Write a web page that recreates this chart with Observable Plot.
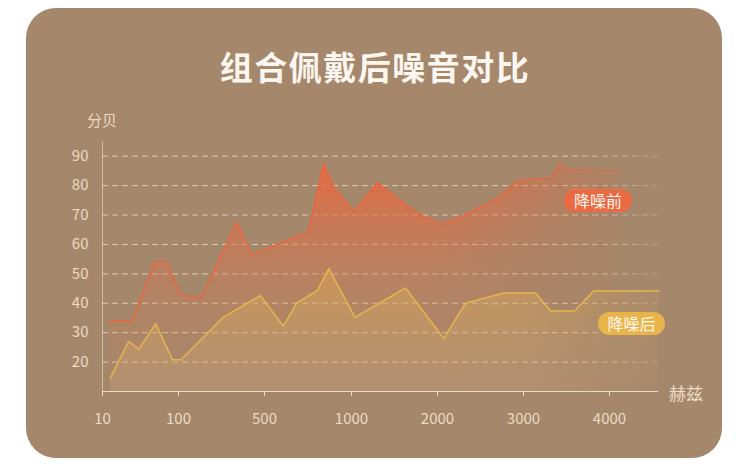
<!DOCTYPE html>
<html><head><meta charset="utf-8">
<script src="https://cdn.jsdelivr.net/npm/d3@7"></script>
<script src="https://cdn.jsdelivr.net/npm/@observablehq/plot@0.6"></script>
<style>
html,body{margin:0;padding:0;background:#fff;width:750px;height:476px;overflow:hidden;font-family:"Noto Sans CJK SC","Noto Sans",sans-serif;}
#wrap{position:relative;width:750px;height:476px;}
#card{position:absolute;left:26px;top:8px;width:696px;height:450px;border-radius:30px;background:#a5876b;}
#title{position:absolute;left:0;width:750px;top:43px;text-align:center;font-size:33px;font-weight:700;color:#fbf6ef;line-height:46px;letter-spacing:1.5px;}
#chart{position:absolute;left:0;top:0;}
.lab{position:absolute;color:#ecdcc6;white-space:nowrap;}
.pill{position:absolute;border-radius:12px;color:#fff7ef;font-size:16px;line-height:23px;height:23px;text-align:center;}
</style></head>
<body><div id="wrap"><div id="card"></div><div id="title">组合佩戴后噪音对比</div><div id="chart"></div>
<div class="lab" style="left:87px;top:110px;font-size:15px;line-height:20px">分贝</div>
<div class="lab" style="left:669px;top:382px;font-size:17px;line-height:22px">赫兹</div>
<div class="pill" style="left:564px;top:189px;width:68px;background:#ea6a43">降噪前</div>
<div class="pill" style="left:598px;top:312px;width:67px;background:#e9b54a">降噪后</div>
</div>
<script>
const freqBefore = [18,45,72,86,109,205,372,440,753,839,898,1027,1299,1764,2047,2326,2709,2942,3333,3419,3500,4128];
const dbBefore   = [34,34,54,54,42.7,41.8,67.5,56.5,64.3,87.5,79.6,71,81,70.5,66.8,70,76,81.8,82.5,87.5,85.5,85];
const freqAfter  = [19,41,53,73,93,112,311,481,609,684,803,870,1041,1628,2073,2326,2771,3140,3314,3593,3817,4573];
const dbAfter    = [14.4,27,24.4,33,20.8,20.8,35.4,42.6,32.2,40,44.3,51.8,35.2,45.2,28,40,43.5,43.5,37.4,37.4,44.2,44.2];
const xTicks = [10,100,500,1000,2000,3000,4000];
const yTicks = [20,30,40,50,60,70,80,90];

const before = freqBefore.map((f,i)=>({f, v: dbBefore[i]}));
const after = freqAfter.map((f,i)=>({f, v: dbAfter[i]}));

function stops(g, list) {
  list.forEach(([o, c, a]) => g.append("stop").attr("offset", o).attr("stop-color", c).attr("stop-opacity", a));
}

const chart = Plot.plot({
  width: 750, height: 476,
  marginLeft: 102, marginRight: 92, marginTop: 141, marginBottom: 85,
  style: {background: "transparent", color: "#ecdcc6", fontFamily: '"Noto Sans CJK SC","Noto Sans",sans-serif'},
  x: {type: "linear", domain: [10,100,500,1000,2000,3000,4000,4600], range: [102,178,264,351,437,523,609,660.6]},
  y: {domain: [10, 95]},
  marks: [
    Plot.ruleY(yTicks, {stroke: "#f3e6d2", strokeOpacity: 0.72, strokeDasharray: "6,4", strokeWidth: 1}),
    Plot.areaY(before, {x: "f", y1: 10, y2: "v", fill: "url(#gOrange)"}),
    Plot.areaY(after, {x: "f", y1: 10, y2: "v", fill: "url(#gYellow)"}),
    Plot.line(before, {x: "f", y: "v", stroke: "#e8673f", strokeWidth: 1.5}),
    Plot.line(after, {x: "f", y: "v", stroke: "#e6b44c", strokeWidth: 1.5}),
    Plot.ruleY([10], {stroke: "#ecdcc6", strokeWidth: 1.2}),
    Plot.ruleX([10], {stroke: "#ecdcc6", strokeOpacity: 0.6, strokeWidth: 1}),
    Plot.axisY({ticks: yTicks, tickSize: 0, tickPadding: 14, fontSize: 15, label: null}),
    Plot.axisX({ticks: xTicks, tickSize: 5, tickPadding: 17, fontSize: 15, tickFormat: d => String(d), label: null})
  ]
});

const X = chart.scale("x").apply;
const s = d3.select(chart);
const d = s.insert("defs", ":first-child");
stops(d.append("linearGradient").attr("id","gOrange").attr("x1",0).attr("y1",0).attr("x2",0).attr("y2",1),
  [[0,"#e9673e",0.92],[0.4,"#d97650",0.48],[1,"#c98a62",0]]);
stops(d.append("linearGradient").attr("id","gYellow").attr("x1",0).attr("y1",0).attr("x2",0).attr("y2",1),
  [[0,"#e4b252",0.4],[1,"#cfa67c",0.3]]);
function hmask(id, f1, f2, list) {
  const g = d.append("linearGradient").attr("id", id + "G").attr("gradientUnits", "userSpaceOnUse")
    .attr("x1", X(f1)).attr("y1", 0).attr("x2", X(f2)).attr("y2", 0);
  stops(g, list);
  d.append("mask").attr("id", id).attr("maskUnits", "userSpaceOnUse")
    .attr("x", 0).attr("y", 0).attr("width", 750).attr("height", 476)
    .append("rect").attr("x", 0).attr("y", 0).attr("width", 750).attr("height", 476).attr("fill", `url(#${id}G)`);
}
hmask("mOrange", 2000, 4128, [[0,"#fff",1],[0.55,"#fff",0.45],[1,"#fff",0.08]]);
hmask("mOrangeLine", 2500, 4128, [[0,"#fff",1],[1,"#fff",0.55]]);
hmask("mYellow", 3000, 4600, [[0,"#fff",1],[1,"#fff",0.25]]);
hmask("mGrid", 3500, 4600, [[0,"#fff",1],[1,"#fff",0.35]]);
s.selectAll('g[fill="url(#gOrange)"]').attr("mask", "url(#mOrange)");
s.selectAll('g[stroke="#e8673f"]').attr("mask", "url(#mOrangeLine)");
s.selectAll('g[fill="url(#gYellow)"]').attr("mask", "url(#mYellow)");
s.selectAll('g[stroke-dasharray]').attr("mask", "url(#mGrid)");
document.getElementById("chart").appendChild(chart);
</script>
</body></html>
